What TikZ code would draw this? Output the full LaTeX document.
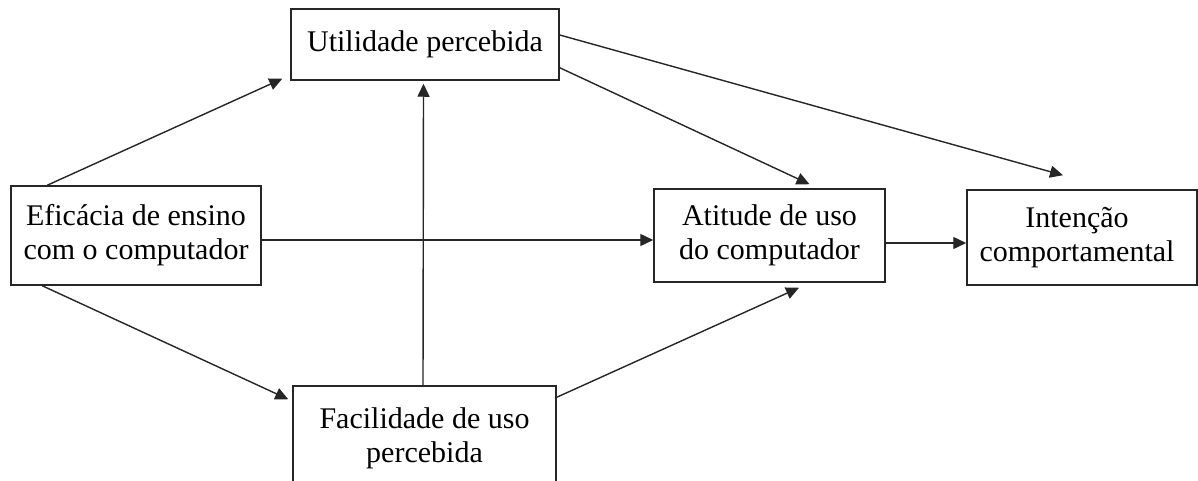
\documentclass[tikz,border=0pt]{standalone}
\usepackage{fontspec}
\setmainfont{Liberation Serif}
\usetikzlibrary{arrows.meta}
\begin{document}
\begin{tikzpicture}[x=1pt,y=-1pt,
  box/.style={draw=black!85, line width=1.5pt, fill=white, inner sep=0pt, align=center,
    font=\fontsize{30}{34}\selectfont},
  arr/.style={draw=black!85, line width=1.4pt, -{Triangle[length=13pt,width=12pt]}}]
\useasboundingbox (0,0) rectangle (1198,481);
\clip (0,0) rectangle (1198,481);
\fill[white] (0,0) rectangle (1198,481);
\node[box, minimum width=268pt, minimum height=71pt] (u) at (425,44.5) {Utilidade percebida};
\node[box, minimum width=250pt, minimum height=99pt] (e) at (136,235.5) {Eficácia de ensino\\com o computador};
\node[box, minimum width=231pt, minimum height=93pt] (a) at (769.5,235.5) {Atitude de uso\\do computador};
\node[box, minimum width=230pt, minimum height=95pt] (i) at (1082,237.5) {};
\node[align=center, inner sep=0pt, font=\fontsize{30}{34}\selectfont] (it) at (1077,237.5) {Intenção\\comportamental};
\node[box, minimum width=263pt, minimum height=104pt] (f) at (424.5,438) {Facilidade de uso\\percebida};
\draw[arr] ([xshift=37pt]e.north west) -- ([xshift=-8pt,yshift=2pt]u.south west);
\draw[arr] ([xshift=32pt]e.south west) -- ([xshift=-4pt,yshift=-14pt]f.north west);
\draw[arr] ([yshift=-4.5pt]e.east) -- ([yshift=-4.5pt]a.west);
\draw[arr] ([xshift=-1.5pt]f.north) -- ([xshift=-1.5pt,yshift=-3pt]u.south);
\draw[arr] ([yshift=13pt]u.south east) -- ([xshift=40pt,yshift=4pt]a.north);
\draw[arr] ([yshift=9.5pt]u.east) -- ([xshift=-19pt,yshift=14pt]i.north);
\draw[arr] ([yshift=-12pt]f.north east) -- ([xshift=29.5pt,yshift=-5pt]a.south);
\draw[arr] ([yshift=-7.5pt]a.east) -- ([yshift=-5.5pt]i.west);
\end{tikzpicture}
\end{document}
